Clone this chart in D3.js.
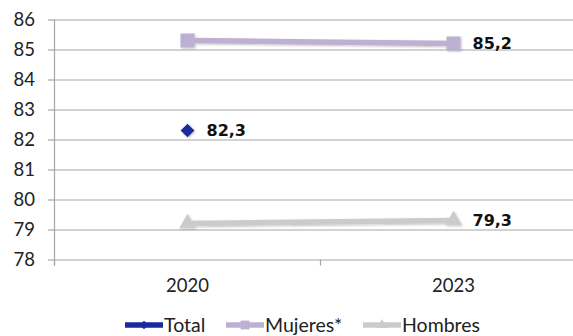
<!DOCTYPE html>
<html>
<head>
<meta charset="utf-8">
<script src="https://cdn.jsdelivr.net/npm/d3@7"></script>
<style>
  html, body { margin: 0; padding: 0; background: #fff; }
  svg { display: block; }
  .tick text { font-family: Lato, "Open Sans", sans-serif; }
</style>
</head>
<body>
<svg id="chart" width="573" height="336"></svg>
<script>
// Years on the horizontal axis
const years = ["2020", "2023"];
// Series values per year (null = no data)
const totalValues   = [82.3, null];
const mujeresValues = [85.3, 85.2];
const hombresValues = [79.2, 79.3];
// Value axis ticks
const yTicks = [78, 79, 80, 81, 82, 83, 84, 85, 86];
// Series names shown in the legend
const seriesNames = ["Total", "Mujeres*", "Hombres"];
// Which points carry a value label (index into years)
const totalLabelled   = [0];
const mujeresLabelled = [1];
const hombresLabelled = [1];

const fmt = v => d3.format(".1f")(v).replace(".", ",");

const svg = d3.select("#chart");
const W = 573, H = 336;
const margin = { left: 54.5, right: -13.5, top: 19.5, bottom: 76.5 };

const x = d3.scaleBand().domain(years).range([margin.left, W - margin.right]);
const y = d3.scaleLinear().domain([78, 86]).range([H - margin.bottom, margin.top]);
const cx = d => x(d) + x.bandwidth() / 2;

const gridColor = "#a6a6a6";

// soft shadow under the marks
const defs = svg.append("defs");
const f = defs.append("filter").attr("id", "shadow").attr("x", "-30%").attr("y", "-30%").attr("width", "160%").attr("height", "160%");
f.append("feGaussianBlur").attr("in", "SourceAlpha").attr("stdDeviation", 1.2);
f.append("feOffset").attr("dx", 0.8).attr("dy", 1.2).attr("result", "b");
f.append("feComponentTransfer").append("feFuncA").attr("type", "linear").attr("slope", 0.25);
const fm = f.append("feMerge");
fm.append("feMergeNode");
fm.append("feMergeNode").attr("in", "SourceGraphic");

// horizontal gridlines and left ticks
const yAxis = d3.axisLeft(y).tickValues(yTicks).tickSize(6.5).tickPadding(13).tickFormat(d3.format("d"));
const gy = svg.append("g").attr("transform", `translate(${margin.left},0)`).call(yAxis);
gy.select(".domain").remove();
gy.selectAll(".tick line").attr("stroke", gridColor).attr("stroke-width", 1.2);
gy.selectAll(".tick").append("line")
  .attr("x1", 0).attr("x2", W).attr("stroke", gridColor).attr("stroke-width", 1.2);
gy.selectAll(".tick text").attr("font-size", 18.5).attr("fill", "#222");

// vertical value axis line
svg.append("line")
  .attr("x1", margin.left).attr("x2", margin.left)
  .attr("y1", margin.top).attr("y2", y(78) + 6)
  .attr("stroke", gridColor).attr("stroke-width", 1.2);

// category axis: boundary ticks and labels
const bounds = [x.range()[0], x(years[1])];
svg.selectAll(".xb").data(bounds).enter().append("line")
  .attr("x1", d => d).attr("x2", d => d)
  .attr("y1", y(78)).attr("y2", y(78) + 6)
  .attr("stroke", gridColor).attr("stroke-width", 1.2);
svg.selectAll(".xl").data(years).enter().append("text")
  .attr("x", d => cx(d)).attr("y", y(78) + 32)
  .attr("text-anchor", "middle")
  .attr("font-family", "Lato, 'Open Sans', sans-serif")
  .attr("font-size", 18.5).attr("fill", "#222")
  .text(d => d);

const series = [
  { name: seriesNames[0], values: totalValues,   color: "#1a2aa0", symbol: d3.symbolDiamond2, size: 120, labelled: totalLabelled },
  { name: seriesNames[1], values: mujeresValues, color: "#bdb0d3", symbol: d3.symbolSquare2,  size: 250, labelled: mujeresLabelled },
  { name: seriesNames[2], values: hombresValues, color: "#cbcbcb", symbol: d3.symbolTriangle2, size: 200, labelled: hombresLabelled }
];

const line = d3.line()
  .defined(d => d.v != null)
  .x(d => cx(d.year)).y(d => y(d.v));

// draw lower-priority series first so Total sits on top
[series[2], series[1], series[0]].forEach(s => {
  const pts = years.map((yr, i) => ({ year: yr, v: s.values[i] }));
  const g = svg.append("g").attr("filter", "url(#shadow)");
  g.append("path").datum(pts)
    .attr("d", line).attr("fill", "none")
    .attr("stroke", s.color).attr("stroke-width", 5.5);
  g.selectAll("path.m").data(pts.filter(p => p.v != null)).enter().append("path")
    .attr("class", "m")
    .attr("transform", p => `translate(${cx(p.year)},${y(p.v)})`)
    .attr("d", d3.symbol().type(s.symbol).size(s.size))
    .attr("fill", s.color);
  svg.selectAll(null).data(s.labelled).enter().append("text")
    .attr("x", i => cx(years[i]) + 19)
    .attr("y", i => y(s.values[i]))
    .attr("dy", "0.36em")
    .attr("font-family", "'DejaVu Sans', sans-serif")
    .attr("font-weight", "bold")
    .attr("font-size", 16).attr("fill", "#111")
    .text(i => fmt(s.values[i]));
});

// legend
const legendX = [125, 226, 363];
const legendY = 325;
series.forEach((s, i) => {
  const g = svg.append("g").attr("transform", `translate(${legendX[i]},${legendY})`);
  g.append("line").attr("x1", 0).attr("x2", 38).attr("stroke", s.color).attr("stroke-width", 5.5);
  g.append("path").attr("transform", "translate(19,0)")
    .attr("d", d3.symbol().type(s.symbol).size(s.size * 0.4)).attr("fill", s.color);
  g.append("text").attr("x", 39).attr("dy", "0.36em")
    .attr("font-family", "Lato, 'Open Sans', sans-serif")
    .attr("font-size", 19.5).attr("fill", "#222")
    .text(s.name);
});
</script>
</body>
</html>
